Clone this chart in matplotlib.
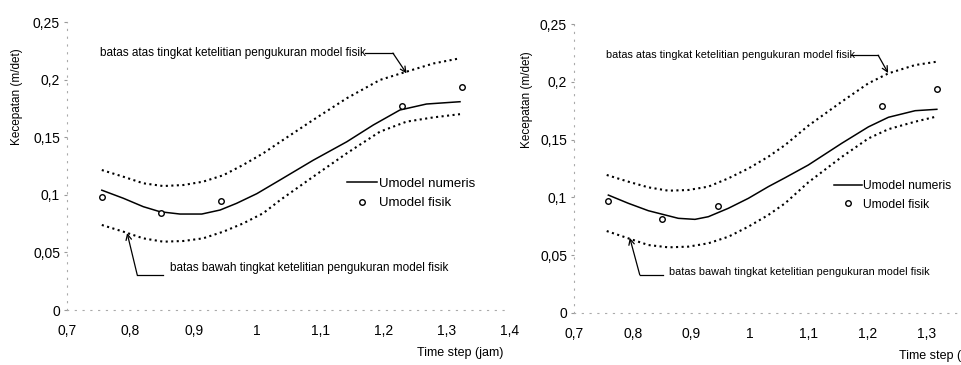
import matplotlib
matplotlib.use('Agg')
import matplotlib.pyplot as plt
from matplotlib.ticker import FuncFormatter

plt.rcParams['font.family'] = ['Liberation Sans', 'DejaVu Sans']

# left panel values
xs_left = [0.755, 0.789, 0.8205, 0.847, 0.8785, 0.913, 0.942, 0.968, 1.0, 1.037,
           1.089, 1.142, 1.184, 1.226, 1.268, 1.321]
num_left = [0.104, 0.097, 0.0897, 0.0853, 0.0833, 0.0833, 0.0868, 0.0926, 0.101, 0.113,
            0.130, 0.146, 0.1606, 0.1736, 0.1788, 0.1808]
xb_left = [0.755, 0.789, 0.8205, 0.852, 0.884, 0.915, 0.947, 0.9785, 1.010, 1.037,
           1.089, 1.142, 1.1945, 1.2365, 1.279, 1.321]
up_left = [0.1215, 0.1157, 0.110, 0.1076, 0.1085, 0.1114, 0.117, 0.126, 0.136, 0.146,
           0.165, 0.1838, 0.1997, 0.2069, 0.214, 0.2185]
low_left = [0.0738, 0.068, 0.0622, 0.0593, 0.0599, 0.0622, 0.068, 0.0752, 0.084, 0.0955,
            0.1157, 0.136, 0.1548, 0.1635, 0.1672, 0.170]
fx_left = [0.756, 0.849, 0.944, 1.23, 1.324]
fy_left = [0.098, 0.084, 0.0946, 0.177, 0.194]

# right panel values
xs_right = [0.7585, 0.7925, 0.8266, 0.849, 0.8777, 0.906, 0.9288, 0.963, 0.997, 1.031,
            1.0595, 1.099, 1.156, 1.2014, 1.2355, 1.281, 1.318]
num_right = [0.102, 0.0949, 0.0885, 0.0856, 0.0819, 0.0810, 0.0833, 0.0906, 0.0992, 0.1093,
             0.117, 0.128, 0.1468, 0.161, 0.1693, 0.175, 0.1762]
xb_right = [0.7557, 0.7925, 0.8266, 0.8607, 0.8947, 0.9288, 0.963, 0.997, 1.031, 1.0595,
            1.099, 1.156, 1.2014, 1.2355, 1.281, 1.318]
up_right = [0.1194, 0.1136, 0.1087, 0.1058, 0.1064, 0.1093, 0.1165, 0.125, 0.1352, 0.1453,
            0.162, 0.1828, 0.1987, 0.2073, 0.2145, 0.2174]
low_right = [0.0709, 0.0646, 0.0588, 0.0568, 0.0574, 0.0603, 0.066, 0.0747, 0.0848, 0.0949,
             0.113, 0.135, 0.151, 0.159, 0.1655, 0.170]
fx_right = [0.758, 0.85, 0.945, 1.225, 1.318]
fy_right = [0.097, 0.081, 0.0926, 0.179, 0.194]

xticks_left = [0.7, 0.8, 0.9, 1.0, 1.1, 1.2, 1.3, 1.4]
xticks_right = [0.7, 0.8, 0.9, 1.0, 1.1, 1.2, 1.3]
yticks = [0, 0.05, 0.1, 0.15, 0.2, 0.25]

txt_up = 'batas atas tingkat ketelitian pengukuran model fisik'
txt_low = 'batas bawah tingkat ketelitian pengukuran model fisik'


def comma(v, pos):
    return ('%g' % v).replace('.', ',')


def panel(ax, xs, num, xb, up, low, fx, fy, xticks, ylab_x, xlab_y, ann, fs):
    ax.plot(xb, up, ':', color='black', lw=1.5)
    ax.plot(xb, low, ':', color='black', lw=1.5)
    ax.plot(xs, num, '-', color='black', lw=1.1, label='Umodel numeris')
    ax.plot(fx, fy, 'o', mfc='white', mec='black', ms=4, mew=1, label='Umodel fisik')

    ax.set_xlim(0.7, 1.4)
    ax.set_ylim(0, 0.25)
    ax.set_xticks(xticks)
    ax.set_yticks(yticks)
    ax.xaxis.set_major_formatter(FuncFormatter(comma))
    ax.yaxis.set_major_formatter(FuncFormatter(comma))
    ax.tick_params(axis='x', length=0, pad=10, labelsize=10)
    ax.tick_params(axis='y', length=2, pad=3, labelsize=10, color='#999999')
    for s in ['top', 'right']:
        ax.spines[s].set_visible(False)
    for s in ['left', 'bottom']:
        ax.spines[s].set_color('#aaaaaa')
        ax.spines[s].set_linestyle((0, (1, 6)))
        ax.spines[s].set_linewidth(0.8)
    ax.patch.set_alpha(0)

    ax.set_ylabel('Kecepatan (m/det)', fontsize=8.5)
    ax.yaxis.set_label_coords(ylab_x, 0.74)
    ax.set_xlabel('Time step (jam)', fontsize=9, ha='left')
    ax.xaxis.set_label_coords(0.79, xlab_y)

    # upper band note
    tx, ty, lx0, lx1, ax_tip, ay_tip = ann[0]
    ax.text(tx, ty, txt_up, fontsize=8.5 * fs, va='center', ha='left')
    ax.plot([lx0, lx1], [ty, ty], color='black', lw=0.9)
    ax.annotate('', xy=(ax_tip, ay_tip), xytext=(lx1, ty),
                arrowprops=dict(arrowstyle='->', lw=0.9, color='black', shrinkA=0, shrinkB=0))
    # lower band note
    tx, ty, lx0, lx1, ly, ax_tip, ay_tip = ann[1]
    ax.text(tx, ty, txt_low, fontsize=8.5 * fs, va='center', ha='left')
    ax.plot([lx0, lx1], [ly, ly], color='black', lw=0.9)
    ax.annotate('', xy=(ax_tip, ay_tip), xytext=(lx1, ly),
                arrowprops=dict(arrowstyle='->', lw=0.9, color='black', shrinkA=0, shrinkB=0))

    ax.legend(loc='upper left', bbox_to_anchor=(0.632, 0.46), frameon=False,
              fontsize=9.5 * fs, borderpad=0, borderaxespad=0, handlelength=2.3,
              handletextpad=0.15, labelspacing=0.55)


fig = plt.figure(figsize=(9.62, 3.65), dpi=100)
ax1 = fig.add_axes([67 / 962, 55 / 365, 443 / 962, 288 / 365])
ax2 = fig.add_axes([574 / 962, 52 / 365, 411 / 962, 289 / 365])

panel(ax1, xs_left, num_left, xb_left, up_left, low_left, fx_left, fy_left, xticks_left,
      -0.099, -0.13,
      [(0.752, 0.223, 1.171, 1.215, 1.2365, 0.2054),
       (0.863, 0.0365, 0.852, 0.811, 0.0304, 0.795, 0.0668)], 1.0)
panel(ax2, xs_right, num_right, xb_right, up_right, low_right, fx_right, fy_right, xticks_right,
      -0.10, -0.128,
      [(0.7545, 0.223, 1.172, 1.218, 1.235, 0.2076),
       (0.862, 0.0355, 0.852, 0.812, 0.033, 0.795, 0.065)], 0.92)

fig.savefig('out.png', dpi=100)
